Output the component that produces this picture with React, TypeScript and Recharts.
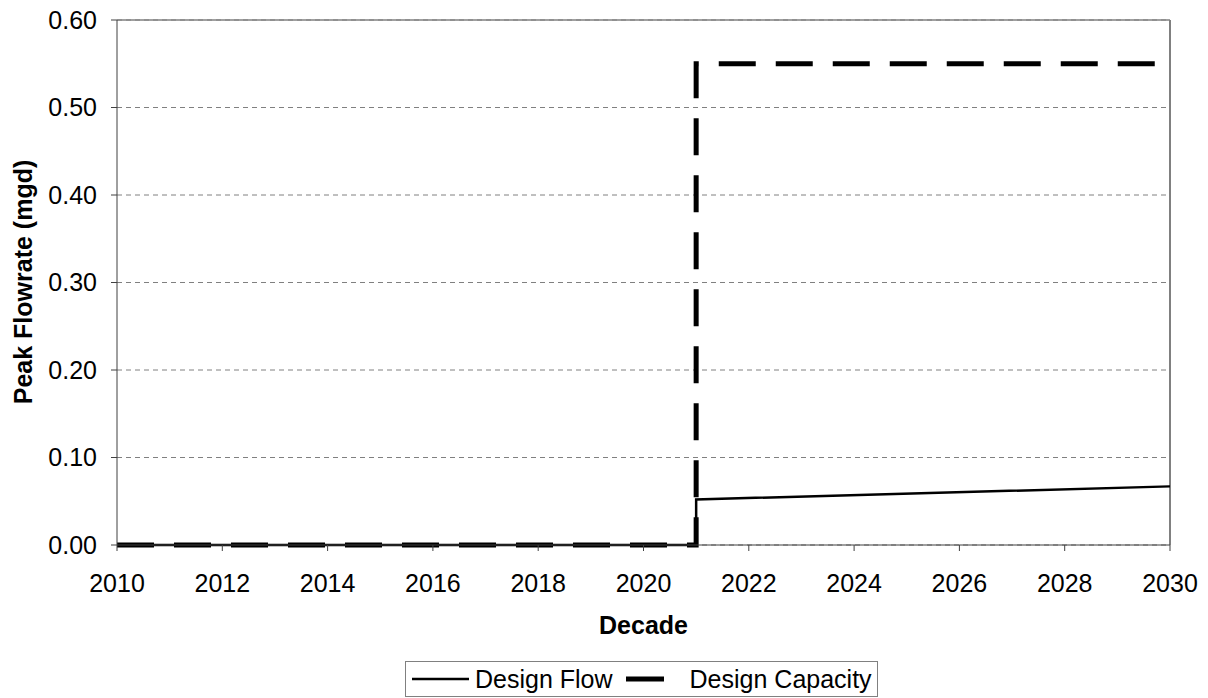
import React from 'react'
import { LineChart, Line, XAxis, YAxis, CartesianGrid, ReferenceLine } from 'recharts'

// design flow: zero until 2021, then steps up and rises slowly
const flowYears = [2010, 2021, 2021, 2030]
const flowValues = [0, 0, 0.052, 0.067]

// design capacity: zero until the new plant comes online in 2021
const capacityYears = [2010, 2021, 2021, 2030]
const capacityValues = [0, 0, 0.55, 0.55]

const yearTicks = [2010, 2012, 2014, 2016, 2018, 2020, 2022, 2024, 2026, 2028, 2030]
const rateTicks = [0, 0.1, 0.2, 0.3, 0.4, 0.5, 0.6]

const FONT = '"Liberation Sans", Arial, sans-serif'
const FS = 25

const flowData = flowYears.map((year, i) => ({ year, value: flowValues[i] }))
const capacityData = capacityYears.map((year, i) => ({ year, value: capacityValues[i] }))

function ChartLegend() {
  return (
    <div style={{
      position: 'absolute', left: 405, top: 661, width: 473, height: 36,
      border: '1px solid #808080', boxSizing: 'border-box', display: 'flex', alignItems: 'center',
      fontFamily: FONT, fontSize: FS, color: '#000', background: '#fff', whiteSpace: 'nowrap',
    }}>
      <svg width={57} height={20} style={{ marginLeft: 6, flex: 'none' }}>
        <line x1={0} y1={10} x2={57} y2={10} stroke="#000" strokeWidth={2.5} />
      </svg>
      <span style={{ marginLeft: 6 }}>Design Flow</span>
      <svg width={38} height={20} style={{ marginLeft: 13, flex: 'none' }}>
        <line x1={0} y1={10} x2={38} y2={10} stroke="#000" strokeWidth={5} />
      </svg>
      <span style={{ marginLeft: 26 }}>Design Capacity</span>
    </div>
  )
}

export default function App() {
  return (
    <div style={{ position: 'absolute', left: 0, top: 0, width: 1208, height: 698, background: '#fff', overflow: 'hidden' }}>
      <LineChart width={1208} height={698} margin={{ top: 20, right: 38, left: 0, bottom: 0 }}>
        <CartesianGrid vertical={false} stroke="#808080" strokeDasharray="5 4" />
        <XAxis
          type="number"
          dataKey="year"
          domain={[2010, 2030]}
          ticks={yearTicks}
          height={153}
          tickSize={6}
          tickMargin={23}
          stroke="#404040"
          tick={{ fill: '#000', fontSize: FS, fontFamily: FONT }}
          label={{
            content: () => (
              <text x={643.5} y={634} textAnchor="middle" fontFamily={FONT} fontSize={FS} fontWeight="bold" fill="#000">
                Decade
              </text>
            ),
          }}
        />
        <YAxis
          type="number"
          domain={[0, 0.6]}
          ticks={rateTicks}
          width={117}
          tickSize={6}
          tickMargin={14}
          stroke="#404040"
          tickFormatter={(v: number) => v.toFixed(2)}
          tick={{ fill: '#000', fontSize: FS, fontFamily: FONT }}
          label={{
            content: () => (
              <text
                x={32}
                y={282}
                transform="rotate(-90 32 282)"
                textAnchor="middle"
                fontFamily={FONT}
                fontSize={FS}
                fontWeight="bold"
                fill="#000"
              >
                Peak Flowrate (mgd)
              </text>
            ),
          }}
        />
        <ReferenceLine y={0.6} stroke="#808080" strokeWidth={1.5} />
        <ReferenceLine x={2030} stroke="#808080" strokeWidth={2} />
        <Line
          data={flowData}
          dataKey="value"
          type="linear"
          stroke="#000"
          strokeWidth={2.5}
          dot={false}
          activeDot={false}
          isAnimationActive={false}
        />
        <Line
          data={capacityData}
          dataKey="value"
          type="linear"
          stroke="#000"
          strokeWidth={5}
          strokeDasharray="37 20"
          dot={false}
          activeDot={false}
          isAnimationActive={false}
        />
      </LineChart>
      <ChartLegend />
    </div>
  )
}
